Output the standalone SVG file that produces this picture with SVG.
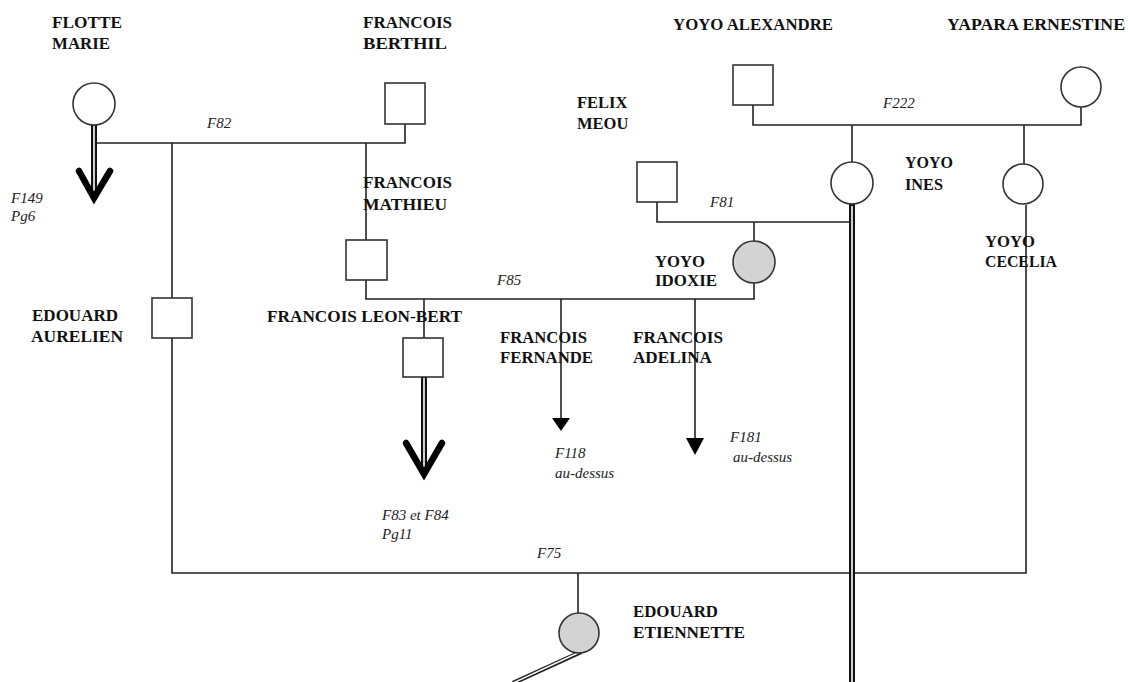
<svg xmlns="http://www.w3.org/2000/svg" width="1128" height="682" viewBox="0 0 1128 682">
<style>
.n{font-family:"Liberation Serif","Times New Roman",serif;font-weight:bold;font-size:16.5px;fill:#111}
.l{font-family:"Liberation Serif","Times New Roman",serif;font-style:italic;font-size:15px;fill:#222}
.sq{fill:#fff;stroke:#333;stroke-width:1.6}
.ci{fill:#fff;stroke:#333;stroke-width:1.6}
.cg{fill:#d3d3d3;stroke:#333;stroke-width:1.6}
.ln{fill:none;stroke:#222;stroke-width:1.6}
.dbo{fill:none;stroke:#111;stroke-width:6}
.dbi{fill:none;stroke:#fff;stroke-width:1.6}
.chev{fill:none;stroke:#000;stroke-width:6.5;stroke-linejoin:miter;stroke-linecap:round}
</style>
<rect width="1128" height="682" fill="#fff"/>
<g id="connectors">
  <path class="ln" d="M97 143H405V124"/>
  <path class="ln" d="M366 143V240M366 280V299H754V283"/>
  <path class="ln" d="M172 143V298M172 338V573H1026V205"/>
  <path class="ln" d="M753 104V125H1081V107"/>
  <path class="ln" d="M852 125V163M1024 125V164"/>
  <path class="ln" d="M657 202V222H852M754 222V241"/>
  <path class="ln" d="M424 299V338"/>
  <path class="ln" d="M561 299V420"/>
  <polygon points="552,418 570,418 561,431" fill="#000"/>
  <path class="ln" d="M695 299V440"/>
  <polygon points="686,438 704,438 695,455" fill="#000"/>
  <path class="ln" d="M578 573V613"/>
  <path class="dbo" d="M94 125V194"/>
  <path class="dbi" d="M94 126V192"/>
  <path class="chev" d="M79 171L94 198L110 171"/>
  <path class="dbo" d="M424 377V470"/>
  <path class="dbi" d="M424 378V468"/>
  <path class="chev" d="M406 443L424 474L442 443"/>
  <path class="dbo" d="M852 204V682"/>
  <path class="dbi" d="M852 206V682"/>
  <path fill="none" stroke="#222" stroke-width="4.5" d="M581 652L513 683"/>
  <path fill="none" stroke="#fff" stroke-width="1.4" d="M580 652L513 683"/>
</g>
<g id="flotte-marie"><circle class="ci" cx="94" cy="104" r="21"/><text class="n" x="52" y="28" textLength="70" lengthAdjust="spacingAndGlyphs">FLOTTE</text><text class="n" x="52" y="49" textLength="58" lengthAdjust="spacingAndGlyphs">MARIE</text></g>
<g id="francois-berthil"><rect class="sq" x="385" y="83" width="40" height="41"/><text class="n" x="363" y="28" textLength="89" lengthAdjust="spacingAndGlyphs">FRANCOIS</text><text class="n" x="363" y="49" textLength="84" lengthAdjust="spacingAndGlyphs">BERTHIL</text></g>
<g id="yoyo-alexandre"><rect class="sq" x="733" y="65" width="40" height="40"/><text class="n" x="673" y="30" textLength="160" lengthAdjust="spacingAndGlyphs">YOYO ALEXANDRE</text></g>
<g id="yapara-ernestine"><circle class="ci" cx="1081" cy="87" r="20"/><text class="n" x="947" y="30" textLength="178" lengthAdjust="spacingAndGlyphs">YAPARA ERNESTINE</text></g>
<g id="felix-meou"><rect class="sq" x="637" y="162" width="40" height="40"/><text class="n" x="577" y="108">FELIX</text><text class="n" x="577" y="129">MEOU</text></g>
<g id="yoyo-ines"><circle class="ci" cx="852" cy="183" r="21"/><text class="n" x="905" y="168" textLength="48" lengthAdjust="spacingAndGlyphs">YOYO</text><text class="n" x="905" y="190" textLength="38" lengthAdjust="spacingAndGlyphs">INES</text></g>
<g id="yoyo-cecelia"><circle class="ci" cx="1023" cy="184" r="20"/><text class="n" x="985" y="247" textLength="50" lengthAdjust="spacingAndGlyphs">YOYO</text><text class="n" x="985" y="267" textLength="72" lengthAdjust="spacingAndGlyphs">CECELIA</text></g>
<g id="francois-mathieu"><rect class="sq" x="346" y="240" width="41" height="40"/><text class="n" x="363" y="188" textLength="89" lengthAdjust="spacingAndGlyphs">FRANCOIS</text><text class="n" x="363" y="210" textLength="84" lengthAdjust="spacingAndGlyphs">MATHIEU</text></g>
<g id="yoyo-idoxie"><circle class="cg" cx="754" cy="262" r="21"/><text class="n" x="655" y="267" textLength="50" lengthAdjust="spacingAndGlyphs">YOYO</text><text class="n" x="655" y="286" textLength="62" lengthAdjust="spacingAndGlyphs">IDOXIE</text></g>
<g id="edouard-aurelien"><rect class="sq" x="152" y="298" width="40" height="40"/><text class="n" x="32" y="321" textLength="86" lengthAdjust="spacingAndGlyphs">EDOUARD</text><text class="n" x="31" y="342" textLength="92" lengthAdjust="spacingAndGlyphs">AURELIEN</text></g>
<g id="francois-leon-bert"><rect class="sq" x="403" y="338" width="40" height="39"/><text class="n" x="267" y="322" textLength="195" lengthAdjust="spacingAndGlyphs">FRANCOIS LEON-BERT</text></g>
<g id="francois-fernande"><text class="n" x="500" y="343" textLength="87" lengthAdjust="spacingAndGlyphs">FRANCOIS</text><text class="n" x="500" y="363" textLength="93" lengthAdjust="spacingAndGlyphs">FERNANDE</text></g>
<g id="francois-adelina"><text class="n" x="633" y="343" textLength="90" lengthAdjust="spacingAndGlyphs">FRANCOIS</text><text class="n" x="633" y="363" textLength="79" lengthAdjust="spacingAndGlyphs">ADELINA</text></g>
<g id="edouard-etiennette"><circle class="cg" cx="579" cy="633" r="20"/><text class="n" x="633" y="617" textLength="85" lengthAdjust="spacingAndGlyphs">EDOUARD</text><text class="n" x="633" y="638" textLength="112" lengthAdjust="spacingAndGlyphs">ETIENNETTE</text></g>
<g id="labels">
  <text class="l" x="207" y="128">F82</text>
  <text class="l" x="11" y="203">F149</text>
  <text class="l" x="11" y="221">Pg6</text>
  <text class="l" x="883" y="108">F222</text>
  <text class="l" x="710" y="207">F81</text>
  <text class="l" x="497" y="285">F85</text>
  <text class="l" x="730" y="442">F181</text>
  <text class="l" x="733" y="462">au-dessus</text>
  <text class="l" x="555" y="458">F118</text>
  <text class="l" x="555" y="478">au-dessus</text>
  <text class="l" x="382" y="520">F83 et F84</text>
  <text class="l" x="382" y="539">Pg11</text>
  <text class="l" x="537" y="558">F75</text>
</g>
</svg>
